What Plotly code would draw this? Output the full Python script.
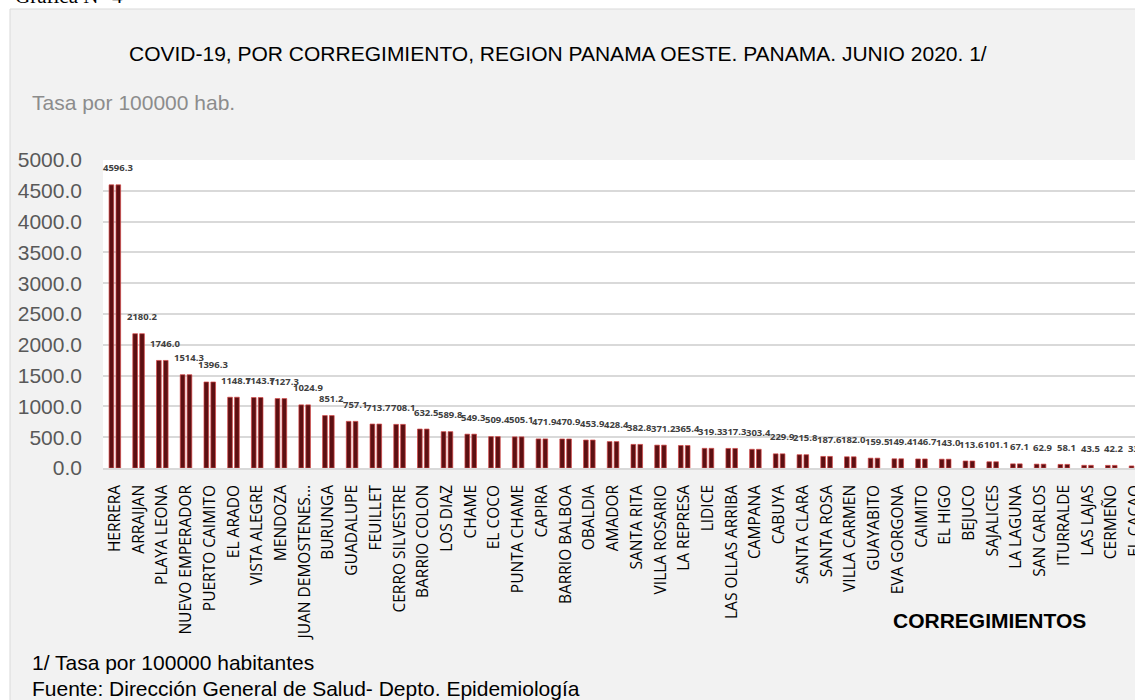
import plotly.graph_objects as go

# ─── Data ──────────────────────────────────────────────────────────────────────

corregimientos = [
    "HERRERA", "ARRAIJAN", "PLAYA LEONA", "NUEVO EMPERADOR", "PUERTO CAIMITO",
    "EL ARADO", "VISTA ALEGRE", "MENDOZA", "JUAN DEMOSTENES...", "BURUNGA",
    "GUADALUPE", "FEUILLET", "CERRO SILVESTRE", "BARRIO COLON", "LOS DIAZ",
    "CHAME", "EL COCO", "PUNTA CHAME", "CAPIRA", "BARRIO BALBOA",
    "OBALDIA", "AMADOR", "SANTA RITA", "VILLA ROSARIO", "LA REPRESA",
    "LIDICE", "LAS OLLAS ARRIBA", "CAMPANA", "CABUYA", "SANTA CLARA",
    "SANTA ROSA", "VILLA CARMEN", "GUAYABITO", "EVA GORGONA", "CAIMITO",
    "EL HIGO", "BEJUCO", "SAJALICES", "LA LAGUNA", "SAN CARLOS",
    "ITURRALDE", "LAS LAJAS", "CERMEÑO", "EL CACAO",
]
tasa = [
    4596.3, 2180.2, 1746.0, 1514.3, 1396.3,
    1148.7, 1143.7, 1127.3, 1024.9, 851.2,
    757.1, 713.7, 708.1, 632.5, 589.8,
    549.3, 509.4, 505.1, 471.9, 470.9,
    453.9, 428.4, 382.8, 371.2, 365.4,
    319.3, 317.3, 303.4, 229.9, 215.8,
    187.6, 182.0, 159.5, 149.4, 146.7,
    143.0, 113.6, 101.1, 67.1, 62.9,
    58.1, 43.5, 42.2, 33.3,
]
y_ticks = [0, 500, 1000, 1500, 2000, 2500, 3000, 3500, 4000, 4500, 5000]

TITLE = "COVID-19, POR CORREGIMIENTO, REGION PANAMA OESTE. PANAMA. JUNIO 2020. 1/"

# ─── Layout helpers (pixel -> paper) ───────────────────────────────────────────

W, H = 1135, 700
L, R, T, B = 103, 0, 160, 232
PW, PH = W - L - R, H - T - B


def px(x):
    return (x - L) / PW


def py(y):
    return (H - B - y) / PH


SANS = "Liberation Sans, Arial, sans-serif"

fig = go.Figure()

# Excel-style 3D column: each category drawn as a pair of slim columns
for _ in range(2):
    fig.add_trace(go.Bar(
        x=corregimientos, y=tasa,
        marker=dict(color="#5c1012", line=dict(color="#d64545", width=0.7)),
        showlegend=False,
        hovertemplate="%{x}: %{y:.1f}<extra></extra>",
    ))

# Data labels
annotations = [
    dict(x=c, y=v, xref="x", yref="y", text=f"{v:.1f}", showarrow=False,
         yshift=17, xshift=3, yanchor="middle",
         font=dict(family="Open Sans", size=9.5, color="#404040", weight="bold"))
    for c, v in zip(corregimientos, tasa)
]

# Texts around the chart
annotations += [
    dict(x=px(13), y=py(-4), text="Gráfica N° 4", xanchor="left", yanchor="middle",
         font=dict(family="Liberation Serif, Times New Roman, serif", size=21, color="#000000")),
    dict(x=px(558), y=py(53), text=TITLE, xanchor="center", yanchor="middle",
         font=dict(family=SANS, size=21, color="#000000")),
    dict(x=px(30), y=py(103), text="Tasa por 100000 hab.", xanchor="left", yanchor="middle",
         font=dict(family=SANS, size=21, color="#8c8c8c")),
    dict(x=px(989), y=py(620), text="<b>CORREGIMIENTOS</b>", xanchor="center", yanchor="middle",
         font=dict(family=SANS, size=21, color="#000000")),
    dict(x=px(30), y=py(662), text="1/ Tasa por 100000 habitantes", xanchor="left",
         yanchor="middle", font=dict(family=SANS, size=21, color="#000000")),
    dict(x=px(30), y=py(688), text="Fuente: Dirección General de Salud- Depto. Epidemiología",
         xanchor="left", yanchor="middle", font=dict(family=SANS, size=21, color="#000000")),
]
for a in annotations[len(tasa):]:
    a.update(xref="paper", yref="paper", showarrow=False)

# Grey chart panel: white page strips outside it plus its thin border
shapes = [
    dict(type="rect", x0=px(-5), x1=px(1150), y0=py(9), y1=py(-5),
         fillcolor="#ffffff", line=dict(width=0)),
    dict(type="rect", x0=px(-5), x1=px(10), y0=py(710), y1=py(-5),
         fillcolor="#ffffff", line=dict(width=0)),
    dict(type="rect", x0=px(10), x1=px(1150), y0=py(710), y1=py(9),
         fillcolor="rgba(0,0,0,0)", line=dict(color="#d9d9d9", width=1)),
]
for s in shapes:
    s.update(xref="paper", yref="paper", layer="below")

fig.update_layout(
    width=W, height=H,
    margin=dict(l=L, r=R, t=T, b=B, autoexpand=False),
    paper_bgcolor="#f2f2f2",
    plot_bgcolor="#ffffff",
    barmode="group",
    bargap=0.42,
    bargroupgap=0.32,
    annotations=annotations,
    shapes=shapes,
)
fig.update_xaxes(
    range=[-0.5, len(corregimientos) - 1],
    tickangle=-90,
    tickfont=dict(family="Open Sans", size=15.5, color="#000000"),
    ticklabelstandoff=9,
    showgrid=False,
    showline=True, linecolor="#d9d9d9", linewidth=1.5,
    automargin=False,
)
fig.update_yaxes(
    range=[0, 5000],
    tickvals=y_ticks,
    tickformat=".1f",
    tickfont=dict(family=SANS, size=21, color="#595959"),
    ticklabelstandoff=20,
    showgrid=True, gridcolor="#d9d9d9", gridwidth=1.5,
    zeroline=False,
    automargin=False,
)

fig.write_html("out.html", config={"displayModeBar": False},
               post_script="document.body.style.margin='0';")
